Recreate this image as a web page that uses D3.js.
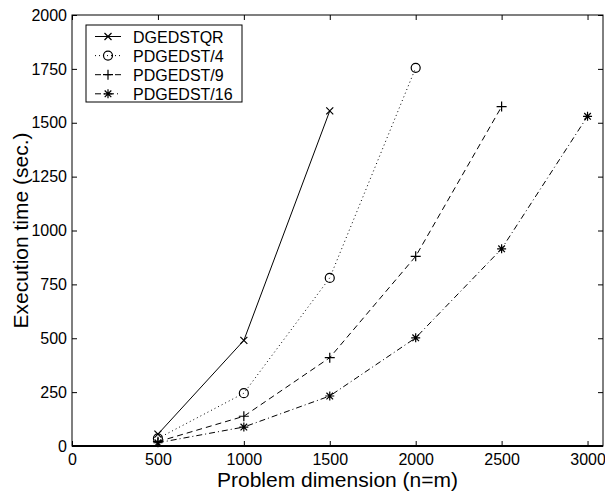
<!DOCTYPE html>
<html>
<head>
<meta charset="utf-8">
<script src="https://cdn.jsdelivr.net/npm/d3@7"></script>
<style>
  html, body { margin: 0; padding: 0; background: #fff; }
  text { font-family: "Liberation Sans", Arial, Helvetica, sans-serif; fill: #000; }
</style>
</head>
<body>
<div id="chart"></div>
<script>
  const seriesNames = ["DGEDSTQR", "PDGEDST/4", "PDGEDST/9", "PDGEDST/16"];
  const dims = [500, 1000, 1500, 2000, 2500, 3000];
  const dgedstqr = [55, 490, 1555];
  const pdgedst4 = [35, 245, 780, 1755];
  const pdgedst9 = [20, 138, 410, 880, 1575];
  const pdgedst16 = [15, 88, 232, 502, 915, 1530];
  const xTicks = [0, 500, 1000, 1500, 2000, 2500, 3000];
  const yTicks = [0, 250, 500, 750, 1000, 1250, 1500, 1750, 2000];

  const width = 605, height = 491;
  const margin = { top: 15, right: 2, bottom: 45, left: 72 };
  const plotW = width - margin.left - margin.right;
  const plotH = height - margin.top - margin.bottom;

  const svg = d3.select("#chart").append("svg").attr("width", width).attr("height", height);
  const g = svg.append("g").attr("transform", `translate(${margin.left},${margin.top})`);

  const x = d3.scaleLinear().domain([0, 3090]).range([0, plotW]);
  const y = d3.scaleLinear().domain([0, 2000]).range([plotH, 0]);

  const styles = [
    { dash: null, marker: "x" },
    { dash: "1,3", marker: "o" },
    { dash: "6,4", marker: "+" },
    { dash: "6,3,1,3", marker: "*" },
  ];
  const series = [dgedstqr, pdgedst4, pdgedst9, pdgedst16].map((vals, i) => ({
    name: seriesNames[i],
    style: styles[i],
    points: vals.map((v, j) => ({ x: dims[j], y: v })),
  }));

  // frame and ticks (all four sides, inward)
  const TICK = 5;
  g.append("rect").attr("width", plotW).attr("height", plotH)
    .attr("fill", "none").attr("stroke", "#000").attr("stroke-width", 1);
  g.append("line").attr("x1", 0).attr("x2", plotW).attr("y1", plotH).attr("y2", plotH)
    .attr("stroke", "#000").attr("stroke-width", 2);

  g.append("g").attr("transform", `translate(0,${plotH})`)
    .call(d3.axisBottom(x).tickValues(xTicks).tickFormat(d3.format("d")).tickSizeInner(-TICK).tickSizeOuter(0).tickPadding(8))
    .call(a => a.select(".domain").remove())
    .call(a => a.selectAll("text").attr("font-size", 16).attr("font-family", null));
  g.append("g")
    .call(d3.axisTop(x).tickValues(xTicks).tickSizeInner(-TICK).tickSizeOuter(0).tickFormat(""))
    .call(a => a.select(".domain").remove());
  g.append("g")
    .call(d3.axisLeft(y).tickValues(yTicks).tickFormat(d3.format("d")).tickSizeInner(-TICK).tickSizeOuter(0).tickPadding(5))
    .call(a => a.select(".domain").remove())
    .call(a => a.selectAll("text").attr("font-size", 16).attr("font-family", null));
  g.append("g").attr("transform", `translate(${plotW},0)`)
    .call(d3.axisRight(y).tickValues(yTicks).tickSizeInner(-TICK).tickSizeOuter(0).tickFormat(""))
    .call(a => a.select(".domain").remove());

  // axis titles
  svg.append("text").attr("x", margin.left + plotW / 2).attr("y", 487)
    .attr("text-anchor", "middle").attr("font-size", 21).text("Problem dimension (n=m)");
  svg.append("text").attr("transform", `translate(28,${margin.top + plotH / 2}) rotate(-90)`)
    .attr("text-anchor", "middle").attr("font-size", 21).text("Execution time (sec.)");

  const drawMarker = (sel, type) => {
    if (type === "x") {
      const s = 3.5;
      sel.append("path").attr("d", `M${-s},${-s}L${s},${s}M${-s},${s}L${s},${-s}`);
    } else if (type === "o") {
      sel.append("circle").attr("r", 4.5).attr("fill", "none");
    } else if (type === "+") {
      const s = 5;
      sel.append("path").attr("d", `M${-s},0L${s},0M0,${-s}L0,${s}`);
    } else {
      const s = 4.5, d = 3.3;
      sel.append("path").attr("d", `M${-s},0L${s},0M0,${-s}L0,${s}M${-d},${-d}L${d},${d}M${-d},${d}L${d},${-d}`);
    }
    sel.attr("stroke", "#000").attr("stroke-width", 1.2).attr("fill", "none");
  };

  const line = d3.line().x(d => x(d.x)).y(d => y(d.y));

  const sg = g.selectAll(".series").data(series).join("g").attr("class", "series");
  sg.append("path")
    .attr("d", d => line(d.points))
    .attr("fill", "none")
    .attr("stroke", "#000")
    .attr("stroke-width", 1)
    .attr("stroke-dasharray", d => d.style.dash);
  sg.each(function (d) {
    d3.select(this).selectAll(".mk").data(d.points).join("g")
      .attr("class", "mk")
      .attr("transform", p => `translate(${x(p.x)},${y(p.y)})`)
      .each(function () { drawMarker(d3.select(this), d.style.marker); });
  });

  // legend
  const lg = svg.append("g").attr("transform", "translate(86,25)");
  lg.append("rect").attr("width", 156).attr("height", 77)
    .attr("fill", "#fff").attr("stroke", "#000").attr("stroke-width", 1);
  const items = lg.selectAll(".item").data(series).join("g")
    .attr("class", "item")
    .attr("transform", (d, i) => `translate(0,${11.5 + i * 19.1})`);
  items.append("line").attr("x1", 9).attr("x2", 35).attr("y1", 0).attr("y2", 0)
    .attr("stroke", "#000").attr("stroke-width", 1)
    .attr("stroke-dasharray", d => d.style.dash);
  items.append("g").attr("transform", "translate(22,0)")
    .each(function (d) { drawMarker(d3.select(this), d.style.marker); });
  items.append("text").attr("x", 47).attr("y", 6).attr("font-size", 16).text(d => d.name);
</script>
</body>
</html>
